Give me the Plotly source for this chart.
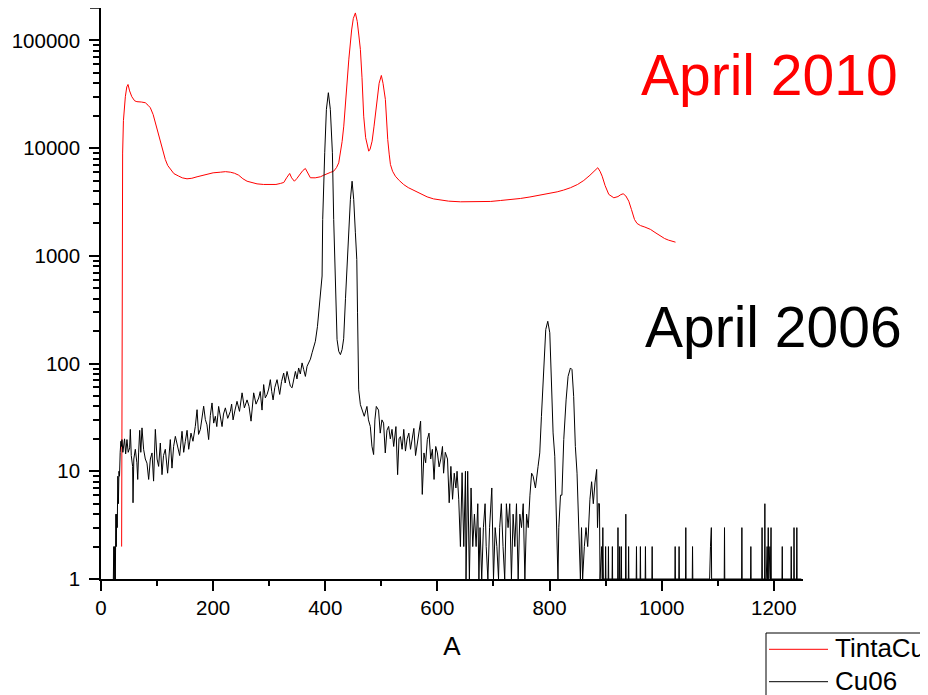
import plotly.graph_objects as go

# ---------------- data ----------------
tinta_a = [36.8, 37.2, 37.6, 38.0, 38.6, 40.0, 41.5, 43.4, 46.0, 48.2, 51.0, 55.0, 60.0, 64.0,
           72.0, 79.0, 84.0, 88.0, 93.0, 96.9, 101.0, 105.8, 110.0, 114.7, 119.0, 123.6, 130.0,
           138.5, 145.0, 153.4, 162.0, 171.3, 180.0, 189.0, 200.0, 212.8, 222.0, 230.7, 238.0,
           245.5, 253.0, 260.5, 270.0, 278.3, 290.0, 302.0, 312.0, 319.9, 326.0, 331.0, 336.5,
           340.0, 344.9, 349.0, 354.3, 360.0, 364.5, 368.0, 373.4, 382.0, 391.3, 397.0, 403.2,
           409.0, 415.0, 420.0, 424.0, 427.0, 430.0, 433.0, 436.0, 439.0, 442.0, 447.0, 450.0,
           453.7, 457.0, 460.0, 462.6, 465.5, 468.5, 472.0, 477.5, 480.0, 483.5, 487.0, 492.4,
           496.0, 500.0, 503.0, 507.2, 509.0, 511.4, 514.0, 516.2, 520.0, 525.0, 532.0, 539.9,
           548.0, 557.7, 570.0, 581.6, 593.0, 605.4, 620.0, 641.0, 660.0, 676.7, 695.0, 712.4,
           730.0, 748.0, 765.0, 783.8, 800.0, 813.6, 825.0, 837.3, 850.0, 861.0, 872.0, 880.0,
           886.0, 890.0, 893.8, 899.0, 905.6, 914.6, 922.0, 927.0, 931.3, 936.0, 941.3, 946.0,
           951.5, 956.0, 962.2, 970.0, 980.0, 988.0, 997.9, 1005.0, 1012.0, 1018.0, 1024.6]
tinta_counts = [2, 60, 600, 2200, 9000, 18000, 26000, 30000, 37000, 39000, 34000, 30000, 27500, 27000,
                26800, 26400, 25000, 23700, 20500, 17200, 14000, 11200, 9300, 7850, 6900, 6340, 5800,
                5500, 5300, 5190, 5250, 5420, 5550, 5780, 5900, 5980, 6050, 5980, 5850,
                5610, 5200, 4930, 4750, 4660, 4600, 4570, 4600, 4700, 4800, 5300, 5820,
                5300, 4930, 5200, 5690, 6200, 6470, 6000, 5310, 5300, 5420, 5600, 5820,
                5950, 6110, 6600, 7310, 8800, 11500, 16000, 28000, 45000, 67000, 125000, 160000,
                180000, 150000, 110000, 82500, 45000, 19800, 12500, 9370, 9800, 11600, 16000, 28300,
                40000, 47300, 40000, 28300, 19000, 12000, 8800, 7050, 6100, 5490, 5000, 4590,
                4300, 4060, 3750, 3530, 3380, 3285, 3220, 3175, 3170, 3175, 3200, 3265,
                3330, 3410, 3520, 3660, 3800, 3930, 4080, 4290, 4600, 5010, 5600, 6200,
                6580, 6100, 5490, 4500, 3720, 3460, 3550, 3700, 3770, 3600, 3215, 2700,
                2175, 2000, 1910, 1850, 1760, 1650, 1520, 1450, 1400, 1370, 1340]

cu06_points = [
    (22.0, 1), (22.8, 2), (23.5, 1), (24.5, 2), (25.5, 1), (26.5, 4), (27.3, 2), (28.0, 4),
    (29.0, 3), (30.0, 9), (31.0, 5), (32.0, 10), (33.0, 9), (34.2, 15), (35.5, 19), (36.3, 17),
    (37.4, 19.7), (39, 15), (40.4, 16.5), (42, 20), (44, 14.5), (46.3, 19.7), (48.5, 15),
    (51.1, 16.5), (52.3, 24.5), (54, 14), (56.4, 11.1), (57.1, 5.1), (58.5, 13), (61.2, 16),
    (64, 12), (65.5, 8.4), (67.1, 14.8), (69, 24), (71, 15), (73.1, 25.3), (76, 16), (79, 13),
    (82, 11.9), (85, 8.4), (88, 13), (91, 14.8), (93.8, 8.1), (96.9, 24.5), (100, 13),
    (102.8, 11.1), (105.8, 18.3), (108.8, 9.3), (111.5, 14), (114.7, 16), (118.8, 9.6),
    (121, 15), (123.6, 19.7), (126.6, 10.7), (129.5, 17), (132.6, 21.1), (136.7, 17),
    (140.3, 14), (144.5, 23.5), (147.5, 15), (150.4, 19), (153.5, 24), (156.4, 16),
    (160.5, 22.6), (164, 19), (168.2, 26.1), (171.3, 37.3), (174, 22), (177.2, 24.5),
    (180, 30), (183.1, 40.2), (186.1, 30.2), (189, 27), (192, 19.7), (195, 33), (198, 43.1),
    (201, 28), (203.9, 32.4), (206.5, 26), (209.8, 40), (212.5, 33), (215.9, 26), (218.5, 34),
    (221.8, 38.8), (226, 31), (230.7, 36), (233, 42), (235.5, 30), (239, 37), (242.6, 44.6),
    (247, 36), (251.6, 53.5), (255.7, 38.8), (260.5, 46), (264, 40), (267.6, 29.2),
    (272.3, 53.5), (276.5, 42), (281.2, 47.9), (284, 55), (287.2, 37), (290.1, 63.8),
    (293, 48), (296.2, 51.7), (299, 58), (302, 70.9), (304.5, 55), (306.9, 46), (310, 60),
    (314, 70.9), (318.7, 51.7), (322, 68), (325.8, 81.6), (328.5, 66), (331.8, 84.5),
    (335, 72), (337.7, 61.7), (340.8, 59.6), (344, 75), (346.7, 84.5), (349.5, 72),
    (352.5, 91), (355.5, 80), (358.6, 101.4), (361.5, 88), (364.5, 76), (367.5, 94.3),
    (370.4, 101), (373.5, 110), (376.5, 126), (379.5, 140), (382.3, 161), (386, 220),
    (389, 330), (392, 480), (394.3, 650), (395.4, 2175), (397, 4500), (399, 9060),
    (402, 22900), (405.5, 32700), (409, 22900), (412.7, 9060), (415, 2175), (418, 600),
    (421, 167), (424, 130), (427, 121), (430, 135), (432.8, 170), (436, 400), (439, 900),
    (441.8, 1637), (444.8, 3335), (447.8, 4930), (450.7, 3335), (453.7, 1637), (456.2, 925),
    (457.5, 300), (459.6, 57), (462.6, 41.6), (465.6, 37), (469.5, 32.4), (474.3, 40),
    (477, 30), (480.3, 26.1), (483.2, 17.1), (486.2, 14.3), (488.5, 30), (491, 40), (495, 37),
    (498, 22.6), (501, 30), (504, 28), (507, 14.8), (510, 24), (513, 26.1), (516, 20),
    (519, 24.5), (522, 17), (526, 26), (529, 9.3), (531.5, 20), (534, 21), (537, 16),
    (540, 24.5), (543, 15.4), (546, 20), (549, 22.6), (552, 16), (555, 19.7), (558, 25),
    (561, 14), (564, 18), (567, 21), (570, 29.2), (573, 6.1), (576, 14.8), (579, 12),
    (582, 19.7), (585, 22.6), (588, 13), (591, 16), (594, 8.4), (597, 17), (600, 14.8),
    (603, 11), (606, 13), (609, 17), (611, 9.6), (614, 15), (618, 13), (621, 5.1),
    (624, 11.1), (627, 5.5), (630, 9.6), (633, 7), (635, 10), (638, 5.5), (641, 2),
    (644, 9.7), (647, 2), (650, 10), (651, 1), (654, 10), (657, 1), (660, 7), (663, 2),
    (666, 4), (669, 2), (672, 5), (674, 1), (676, 3), (679, 1), (682, 3), (685, 5), (687, 2),
    (690, 1), (693, 3), (697, 7), (700, 1), (703, 3), (706, 2), (709, 1), (711, 3), (714, 5),
    (717, 2), (720, 1), (723, 5), (726, 3), (729, 5), (732, 1), (735, 4), (738, 2), (741, 5),
    (744, 1), (747, 4), (750, 3), (753, 5), (756, 1), (759, 4), (762, 3), (765, 6),
    (768, 9.6), (770.7, 9), (774.8, 7), (779.5, 11.1), (782.5, 14.8), (785.5, 32.4),
    (789.6, 94), (793.2, 207), (796.8, 247), (800.4, 193), (803.4, 66), (806.3, 22.7),
    (809.3, 13.8), (812, 4.8), (815, 1), (816.5, 3), (819.5, 6), (822, 6), (825.3, 19.7),
    (829.5, 46), (833, 76), (837.2, 91), (840, 88), (843, 49.6), (846, 17), (849, 9.6),
    (852, 3), (855, 1), (857, 3), (859, 1), (862, 2), (865, 3), (868, 2), (870, 4),
    (872, 5.5), (875, 8), (878, 5), (881, 7.8), (884, 10.4), (885.5, 3), (887, 5), (889, 5),
    (890, 1), (893, 2), (894, 1), (895, 3), (896, 1), (899.5, 1), (900, 2), (900.5, 1),
    (904.5, 1), (905, 2), (905.5, 1), (911.5, 1), (912, 2), (912.5, 1), (921.5, 1), (922, 3),
    (922.5, 1), (924.5, 1), (925, 2), (925.5, 1), (927.5, 1), (928, 2), (928.5, 1),
    (935.5, 1), (936, 4), (936.5, 1), (940.5, 1), (941, 2), (941.5, 1), (954.5, 1), (955, 2),
    (955.5, 1), (961.5, 1), (962, 2), (962.5, 1), (970.5, 1), (971, 2), (971.5, 1),
    (982.5, 1), (983, 2), (983.5, 1), (1023.5, 1), (1024, 2), (1024.5, 1), (1030.5, 1),
    (1031, 2), (1031.5, 1), (1042.5, 1), (1043, 3), (1043.5, 1), (1054.5, 1), (1055, 2),
    (1055.5, 1), (1085.5, 1), (1086, 2), (1087, 2), (1088.5, 3), (1089, 1), (1111.5, 1),
    (1112, 3), (1112.5, 1), (1142.5, 1), (1143, 3), (1143.5, 1), (1158.5, 1), (1159, 2),
    (1159.5, 1), (1178.5, 1), (1179, 3), (1179.5, 1), (1183.5, 1), (1184, 5), (1184.5, 1),
    (1186.5, 1), (1187, 2), (1188, 2), (1189, 1), (1190, 3), (1191, 1), (1192, 2), (1193, 2),
    (1194, 1), (1195, 3), (1195.5, 1), (1214.5, 1), (1215, 2), (1215.5, 1), (1230.5, 1),
    (1231, 2), (1231.5, 1), (1235.5, 1), (1236, 3), (1236.5, 1), (1240.5, 1), (1241, 3),
    (1241.5, 1), (1249, 1),
]
cu06_a = [p[0] for p in cu06_points]
cu06_counts = [p[1] for p in cu06_points]

series_names = ["TintaCu", "Cu06"]
x_tick_vals = [0, 200, 400, 600, 800, 1000, 1200]
y_tick_vals = [1, 10, 100, 1000, 10000, 100000]
y_tick_text = ["1", "10", "100", "1000", "10000", "100000"]
x_title = "A"
label_2010 = "April 2010"
label_2006 = "April 2006"

# ---------------- layout geometry ----------------
# the page adds an 8 px body margin; the figure is sized so that it fills the window
O = 8
W, H = 920, 687
L, T = 93, 0
PW, PH = 702, 571
R, B = W - L - PW, H - T - PH
FONT = "Liberation Sans, Arial, sans-serif"


def px(xs):
    """screen x pixel -> paper x"""
    return (xs - O - L) / PW


def py(ys):
    """screen y pixel -> paper y"""
    return (T + PH - (ys - O)) / PH


fig = go.Figure()
fig.add_trace(go.Scatter(x=tinta_a, y=tinta_counts, mode="lines", name=series_names[0],
                         line=dict(color="#ff0000", width=1)))
fig.add_trace(go.Scatter(x=cu06_a, y=cu06_counts, mode="lines", name=series_names[1],
                         line=dict(color="#000000", width=1)))

minor_y = [m * 10 ** e for e in range(0, 6) for m in range(2, 10) if m * 10 ** e < 200000]

fig.update_layout(
    width=W, height=H,
    margin=dict(l=L, r=R, t=T, b=B, pad=0, autoexpand=False),
    paper_bgcolor="white", plot_bgcolor="white",
    showlegend=False,
    font=dict(family=FONT, color="black", size=20.5),
)
fig.update_xaxes(
    range=[0, 1252], tickmode="array", tickvals=x_tick_vals,
    ticks="outside", ticklen=10, tickwidth=1.5, tickcolor="black",
    showline=True, linecolor="black", linewidth=1.5,
    showgrid=False, zeroline=False, tickfont=dict(size=20.5, family=FONT),
    title=dict(text=x_title, font=dict(size=26, family=FONT), standoff=18),
    minor=dict(ticks="outside", ticklen=5, tickwidth=1.5, tickcolor="black",
               tickmode="linear", tick0=0, dtick=100, showgrid=False),
)
fig.update_yaxes(
    type="log", range=[0, 5.301], tickmode="array", tickvals=y_tick_vals, ticktext=y_tick_text,
    ticks="outside", ticklen=10, tickwidth=1.5, tickcolor="black",
    showline=True, linecolor="black", linewidth=1.5, ticklabelstandoff=5,
    showgrid=False, zeroline=False, tickfont=dict(size=20.5, family=FONT),
    minor=dict(ticks="outside", ticklen=6, tickwidth=1.5, tickcolor="black",
               tickmode="array", tickvals=minor_y, showgrid=False),
)

# cap tick at the top of the y axis
fig.add_shape(type="line", xref="paper", yref="paper", x0=px(90), x1=0, y0=1, y1=1,
              line=dict(color="black", width=1.5))

# big labels
fig.add_annotation(xref="paper", yref="paper", x=px(639), y=py(75), xanchor="left",
                   yanchor="middle", text=label_2010, showarrow=False,
                   font=dict(size=57, color="#ff0000", family=FONT))
fig.add_annotation(xref="paper", yref="paper", x=px(643), y=py(326.7), xanchor="left",
                   yanchor="middle", text=label_2006, showarrow=False,
                   font=dict(size=57, color="black", family=FONT))

# legend box (runs into the page edge as in the reference)
fig.add_shape(type="rect", xref="paper", yref="paper", x0=px(766), x1=px(945),
              y0=py(633), y1=py(712), line=dict(color="black", width=1), fillcolor="white",
              layer="above")
legend_colors = ["#ff0000", "#000000"]
legend_rows = [649.3, 681.7]
for name, col, yr in zip(series_names, legend_colors, legend_rows):
    fig.add_shape(type="line", xref="paper", yref="paper", x0=px(769), x1=px(828),
                  y0=py(yr), y1=py(yr), line=dict(color=col, width=1))
    fig.add_annotation(xref="paper", yref="paper", x=px(833), y=py(yr - 1), xanchor="left",
                       yanchor="middle", text=name, showarrow=False,
                       font=dict(size=26, color="black", family=FONT))

fig.write_html("out.html")
